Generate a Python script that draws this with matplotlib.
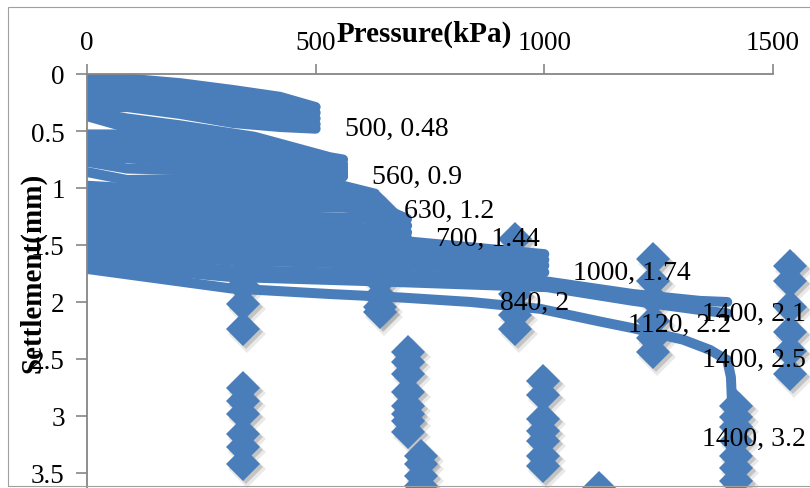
import matplotlib
matplotlib.use("Agg")
import matplotlib.pyplot as plt
import matplotlib.transforms as mtransforms
from matplotlib.patches import Rectangle
from matplotlib.ticker import FuncFormatter

BLUE = "#4a7ebb"
AXIS = "#868686"
SHADOW = "#6f6f6f"

plt.rcParams["font.family"] = ["Liberation Serif", "DejaVu Serif"]

# load (kPa) / settlement (mm) lines, grouped by the pressure where they stop
g1_p = [0, 88, 203, 319, 422, 500]
g1_s = [
    [0.04, 0.04, 0.08, 0.14, 0.20, 0.29],
    [0.10, 0.10, 0.15, 0.21, 0.27, 0.34],
    [0.17, 0.16, 0.22, 0.29, 0.33, 0.39],
    [0.24, 0.23, 0.29, 0.36, 0.40, 0.44],
    [0.30, 0.29, 0.35, 0.43, 0.465, 0.48],
]
g2_p = [0, 88, 203, 366, 531, 560]
g2_s = [
    [0.33, 0.39, 0.45, 0.55, 0.73, 0.75],
    [0.37, 0.47, 0.52, 0.61, 0.77, 0.79],
    [0.53, 0.53, 0.58, 0.67, 0.80, 0.82],
    [0.60, 0.60, 0.64, 0.72, 0.83, 0.85],
    [0.67, 0.67, 0.71, 0.77, 0.86, 0.87],
    [0.74, 0.74, 0.77, 0.82, 0.88, 0.89],
    [0.77, 0.83, 0.84, 0.87, 0.90, 0.90],
]
g3_p = [0, 88, 203, 366, 560, 630]
g3_s = [
    [0.86, 0.93, 0.92, 0.93, 0.98, 1.05],
    [0.98, 1.00, 0.99, 1.00, 1.04, 1.10],
    [1.06, 1.07, 1.06, 1.07, 1.10, 1.15],
    [1.12, 1.13, 1.13, 1.14, 1.17, 1.20],
]
g4_p = [0, 88, 203, 366, 560, 637, 700]
g4_s = [
    [1.18, 1.19, 1.19, 1.19, 1.17, 1.16, 1.27],
    [1.25, 1.25, 1.25, 1.26, 1.26, 1.27, 1.33],
    [1.31, 1.31, 1.31, 1.32, 1.34, 1.36, 1.39],
    [1.36, 1.36, 1.37, 1.38, 1.41, 1.42, 1.44],
]
g5_p = [0, 88, 203, 366, 560, 706, 1000]
g5_s = [
    [1.42, 1.42, 1.43, 1.45, 1.46, 1.47, 1.58],
    [1.49, 1.49, 1.50, 1.52, 1.53, 1.54, 1.63],
    [1.55, 1.55, 1.56, 1.58, 1.60, 1.61, 1.68],
    [1.60, 1.60, 1.62, 1.64, 1.66, 1.68, 1.74],
]
band_p = [0, 313, 641, 1006, 1194, 1340, 1400]
band_s = [
    [1.64, 1.72, 1.75, 1.82, 1.93, 1.99, 2.00],
    [1.67, 1.78, 1.82, 1.87, 1.99, 2.07, 2.10],
]
curve_p = [0, 313, 531, 684, 840, 991, 1120, 1194, 1303, 1362, 1400, 1408, 1410, 1408, 1408]
curve_s = [1.71, 1.88, 1.93, 1.96, 2.00, 2.06, 2.17, 2.23, 2.33, 2.42, 2.51, 2.66, 2.85, 3.20, 3.70]

# diamond marker columns: pressure -> settlements
col_p = [341, 641, 702, 730, 936, 997, 1120, 1238, 1419, 1537]
col_s = [
    [1.21, 1.36, 1.61, 1.86, 2.02, 2.24, 2.75, 2.87, 2.98, 3.16, 3.27, 3.42],
    [1.18, 1.30, 1.45, 1.54, 1.65, 1.74, 1.82, 1.95, 2.04, 2.09],
    [2.44, 2.53, 2.63, 2.79, 2.91, 2.98, 3.04, 3.14],
    [3.35, 3.42, 3.53, 3.61],
    [1.45, 1.60, 1.75, 1.93, 2.11, 2.24],
    [2.69, 2.82, 3.03, 3.13, 3.22, 3.35, 3.44],
    [3.63],
    [1.62, 1.82, 1.97, 2.17, 2.32, 2.44],
    [2.91, 3.01, 3.10, 3.22, 3.35, 3.46, 3.57],
    [1.68, 1.82, 2.04, 2.26, 2.43, 2.63],
]

# data labels
lab_p = [500, 560, 630, 700, 1000, 840, 1120, 1400, 1400, 1400]
lab_s = [0.48, 0.9, 1.2, 1.44, 1.74, 2, 2.2, 2.1, 2.5, 3.2]

x_ticks = [0, 500, 1000, 1500]
y_ticks = [0, 0.5, 1, 1.5, 2, 2.5, 3, 3.5]

fig = plt.figure(figsize=(8.1, 4.89), dpi=100)
ax = fig.add_axes([87 / 810, -42 / 489, 686 / 810, 456 / 489])

line_kw = dict(color=BLUE, lw=7.2, solid_capstyle="round",
               solid_joinstyle="round", zorder=2)
for p, group in [(g1_p, g1_s), (g2_p, g2_s), (g3_p, g3_s),
                 (g4_p, g4_s), (g5_p, g5_s), (band_p, band_s)]:
    for s in group:
        ax.plot(p, s, **line_kw)
ax.plot(curve_p, curve_s, **line_kw)

shadow1 = mtransforms.offset_copy(ax.transData, fig=fig, x=4, y=-5, units="dots")
shadow2 = mtransforms.offset_copy(ax.transData, fig=fig, x=3, y=-3, units="dots")
for p, s in zip(col_p, col_s):
    xs = [p] * len(s)
    ax.plot(xs, s, ls="none", marker="D", ms=19, color=SHADOW, alpha=0.15,
            mew=0, transform=shadow1, clip_on=False, zorder=1)
    ax.plot(xs, s, ls="none", marker="D", ms=17, color=SHADOW, alpha=0.3,
            mew=0, transform=shadow2, clip_on=False, zorder=1)
    ax.plot(xs, s, ls="none", marker="D", ms=17, color=BLUE, mew=0,
            clip_on=False, zorder=3)

for p, s in zip(lab_p, lab_s):
    dx = -25 if p >= 1400 else 29
    ax.annotate(f"{p:g}, {s:g}", (p, s), xytext=(dx, 0),
                textcoords="offset pixels", ha="left", va="center",
                fontsize=20, zorder=5)

ax.set_xlim(0, 1500)
ax.set_ylim(4, 0)
ax.set_xticks(x_ticks)
ax.set_yticks(y_ticks)
ax.yaxis.set_major_formatter(FuncFormatter(lambda v, _: f"{v:g}"))
ax.xaxis.tick_top()
ax.tick_params(axis="x", direction="out", length=7, width=1.2, color=AXIS,
               pad=7, labelsize=19.5)
ax.tick_params(axis="y", direction="out", length=8, width=1.2, color=AXIS,
               pad=8, labelsize=19.5)
for side in ("right", "bottom"):
    ax.spines[side].set_visible(False)
for side in ("left", "top"):
    ax.spines[side].set_color(AXIS)
    ax.spines[side].set_linewidth(1.3)

fig.text(424 / 810, 1 - 42 / 489, "Pressure(kPa)", ha="center", va="baseline",
         fontsize=21, fontweight="bold")
fig.text(33 / 810, 1 - 273 / 489, "Settlement(mm)", ha="center", va="center",
         rotation=90, fontsize=21, fontweight="bold")

# chart-area frame (right side runs off the picture)
fig.patches.append(Rectangle((8 / 810, 2 / 489), 1.2, 479 / 489,
                             transform=fig.transFigure, fill=False,
                             edgecolor="#a0a0a0", lw=0.8))

fig.savefig("out.png", dpi=100)
